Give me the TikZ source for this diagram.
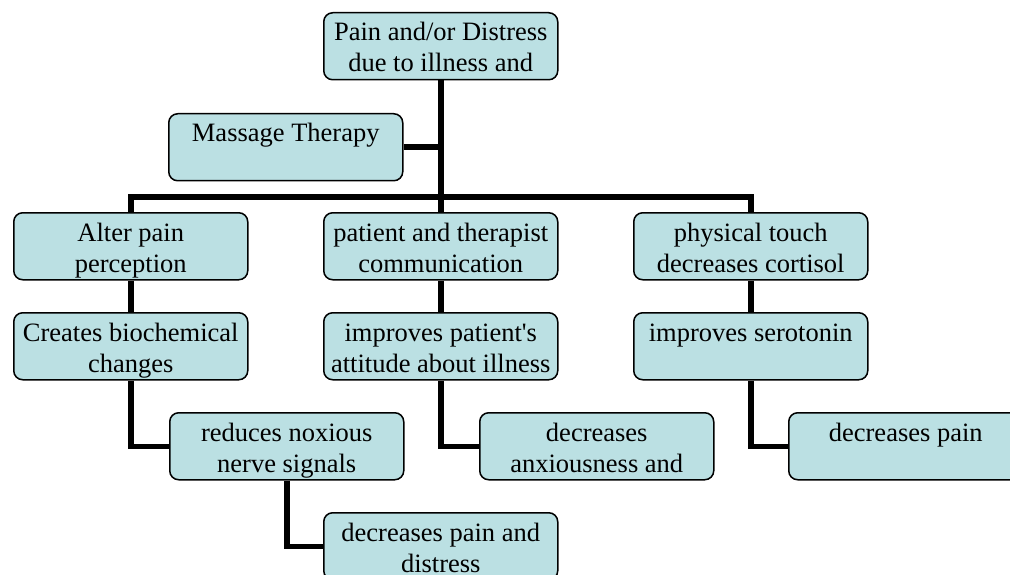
\documentclass[tikz,border=0pt]{standalone}
\usepackage{fontspec}
\setmainfont{Liberation Serif}
\definecolor{boxfill}{RGB}{187,224,227}
\tikzset{
  box/.style={draw=black, line width=1.5pt, fill=boxfill, rounded corners=9pt,
    minimum width=234pt, minimum height=67pt, inner sep=0pt, anchor=north west},
  txt/.style={anchor=base, inner sep=0pt, font=\fontsize{26.5}{31}\selectfont},
  conn/.style={line width=5.5pt, draw=black},
}
\newcommand\mkbox[4]{%
  \node[box] (#1) at (#2,#3) {};
  \node[txt] (#1-t) at ([yshift=-29pt]#1.north) {\begin{tabular}[t]{@{}c@{}}#4\end{tabular}};
}
\begin{document}
\begin{tikzpicture}[x=1pt,y=-1pt]
\useasboundingbox (0,0) rectangle (1010,575);
\mkbox{top}{323}{12}{Pain and/or Distress\\due to illness and}
\mkbox{massage}{168}{113}{Massage Therapy}
\mkbox{alter}{13}{212}{Alter pain\\perception}
\mkbox{patient}{323}{212}{patient and therapist\\communication}
\mkbox{touch}{633}{212}{physical touch\\decreases cortisol}
\mkbox{creates}{13}{312}{Creates biochemical\\changes}
\mkbox{improves}{323}{312}{improves patient\textquotesingle s\\attitude about illness}
\mkbox{serotonin}{633}{312}{improves serotonin}
\mkbox{noxious}{169}{412}{reduces noxious\\nerve signals}
\mkbox{anx}{479}{412}{decreases\\anxiousness and}
\mkbox{decpain}{788}{412}{decreases pain}
\mkbox{final}{323}{512}{decreases pain and\\distress}
\coordinate (j) at (patient.north |- 0,197);
\draw[conn] (top.south) -- (patient.north);
\draw[conn] (massage.east) -- (massage.east -| top.south);
\draw[conn] (alter.north) |- (j) -| (touch.north);
\draw[conn] (alter.south) -- (creates.north);
\draw[conn] (patient.south) -- (improves.north);
\draw[conn] (touch.south) -- (serotonin.north);
\draw[conn] (creates.south) |- (noxious.west);
\draw[conn] (improves.south) |- (anx.west);
\draw[conn] (serotonin.south) |- (decpain.west);
\draw[conn] (noxious.south) |- (final.west);
\end{tikzpicture}
\end{document}
